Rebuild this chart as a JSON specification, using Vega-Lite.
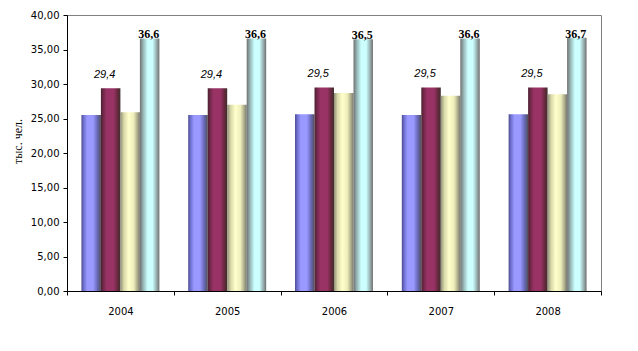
{
  "$schema": "https://vega.github.io/schema/vega-lite/v6.json",
  "autosize": "none",
  "width": 534,
  "height": 276,
  "padding": {"left": 67, "top": 15, "right": 37, "bottom": 60},
  "background": "white",
  "config": {
    "locale": {"number": {"decimal": ",", "thousands": " ", "grouping": [3], "currency": ["", ""]}},
    "view": {"stroke": "#808080", "strokeWidth": 1},
    "axis": {"domainColor": "black", "tickColor": "black", "labelColor": "black", "titleColor": "black", "grid": false, "labelFont": "DejaVu Sans", "labelFontSize": 10, "titleFont": "Liberation Serif", "titleFontSize": 12, "titleFontWeight": "normal"}
  },
  "data": {"values": [
    {"year": "2004", "series": "s1", "value": 25.5},
    {"year": "2004", "series": "s2", "value": 29.4},
    {"year": "2004", "series": "s3", "value": 25.9},
    {"year": "2004", "series": "s4", "value": 36.6},
    {"year": "2005", "series": "s1", "value": 25.5},
    {"year": "2005", "series": "s2", "value": 29.4},
    {"year": "2005", "series": "s3", "value": 27.0},
    {"year": "2005", "series": "s4", "value": 36.6},
    {"year": "2006", "series": "s1", "value": 25.6},
    {"year": "2006", "series": "s2", "value": 29.5},
    {"year": "2006", "series": "s3", "value": 28.7},
    {"year": "2006", "series": "s4", "value": 36.5},
    {"year": "2007", "series": "s1", "value": 25.5},
    {"year": "2007", "series": "s2", "value": 29.5},
    {"year": "2007", "series": "s3", "value": 28.3},
    {"year": "2007", "series": "s4", "value": 36.6},
    {"year": "2008", "series": "s1", "value": 25.6},
    {"year": "2008", "series": "s2", "value": 29.5},
    {"year": "2008", "series": "s3", "value": 28.5},
    {"year": "2008", "series": "s4", "value": 36.7}
  ]},
  "encoding": {
    "x": {"field": "year", "type": "nominal", "title": null,
      "scale": {"paddingInner": 0, "paddingOuter": 0},
      "axis": {"labelAngle": 0, "tickBand": "extent", "tickSize": 4, "labelPadding": 11}},
    "xOffset": {"field": "series", "type": "nominal",
      "scale": {"domain": ["s1", "s2", "s3", "s4"], "paddingInner": 0, "paddingOuter": 0.74}},
    "y": {"field": "value", "type": "quantitative", "title": "тыс. чел.",
      "scale": {"domain": [0, 40], "nice": false},
      "axis": {"values": [0, 5, 10, 15, 20, 25, 30, 35, 40], "format": ".2f", "tickSize": 4, "labelPadding": 4,
        "titleX": -50, "titleY": 126, "titleBaseline": "middle", "titleAlign": "center", "titleAngle": -90}}
  },
  "layer": [
    {"transform": [{"filter": "datum.series === 's1'"}],
     "mark": {"type": "bar", "color": {"gradient": "linear", "x1": 0, "y1": 0, "x2": 1, "y2": 0,
       "stops": [{"offset": 0, "color": "#4a4a90"}, {"offset": 0.12, "color": "#7070d0"}, {"offset": 0.3, "color": "#9999ff"}, {"offset": 0.6, "color": "#9999ff"}, {"offset": 0.82, "color": "#6868b8"}, {"offset": 1, "color": "#505058"}]}}},
    {"transform": [{"filter": "datum.series === 's2'"}],
     "mark": {"type": "bar", "color": {"gradient": "linear", "x1": 0, "y1": 0, "x2": 1, "y2": 0,
       "stops": [{"offset": 0, "color": "#4a2030"}, {"offset": 0.12, "color": "#702848"}, {"offset": 0.3, "color": "#993366"}, {"offset": 0.65, "color": "#993366"}, {"offset": 0.88, "color": "#602838"}, {"offset": 1, "color": "#403030"}]}}},
    {"transform": [{"filter": "datum.series === 's3'"}],
     "mark": {"type": "bar", "color": {"gradient": "linear", "x1": 0, "y1": 0, "x2": 1, "y2": 0,
       "stops": [{"offset": 0, "color": "#909078"}, {"offset": 0.18, "color": "#d8d8a8"}, {"offset": 0.42, "color": "#ffffcc"}, {"offset": 0.68, "color": "#eeeebb"}, {"offset": 0.88, "color": "#a8a888"}, {"offset": 1, "color": "#787870"}]}}},
    {"transform": [{"filter": "datum.series === 's4'"}],
     "mark": {"type": "bar", "color": {"gradient": "linear", "x1": 0, "y1": 0, "x2": 1, "y2": 0,
       "stops": [{"offset": 0, "color": "#707070"}, {"offset": 0.18, "color": "#98b8b8"}, {"offset": 0.4, "color": "#ccffff"}, {"offset": 0.65, "color": "#ccffff"}, {"offset": 0.85, "color": "#98b0b0"}, {"offset": 1, "color": "#707070"}]}}},
    {"transform": [{"filter": "datum.series === 's2'"}],
     "mark": {"type": "text", "font": "Liberation Sans", "fontSize": 11, "fontStyle": "italic", "baseline": "alphabetic", "dy": -10, "dx": -6, "color": "black"},
     "encoding": {"text": {"field": "value", "type": "quantitative", "format": ".1f"}}},
    {"transform": [{"filter": "datum.series === 's4'"}],
     "mark": {"type": "text", "font": "Liberation Serif", "fontSize": 12, "fontWeight": "bold", "baseline": "alphabetic", "dy": 0, "dx": -1, "color": "black"},
     "encoding": {"text": {"field": "value", "type": "quantitative", "format": ".1f"}}}
  ]
}
